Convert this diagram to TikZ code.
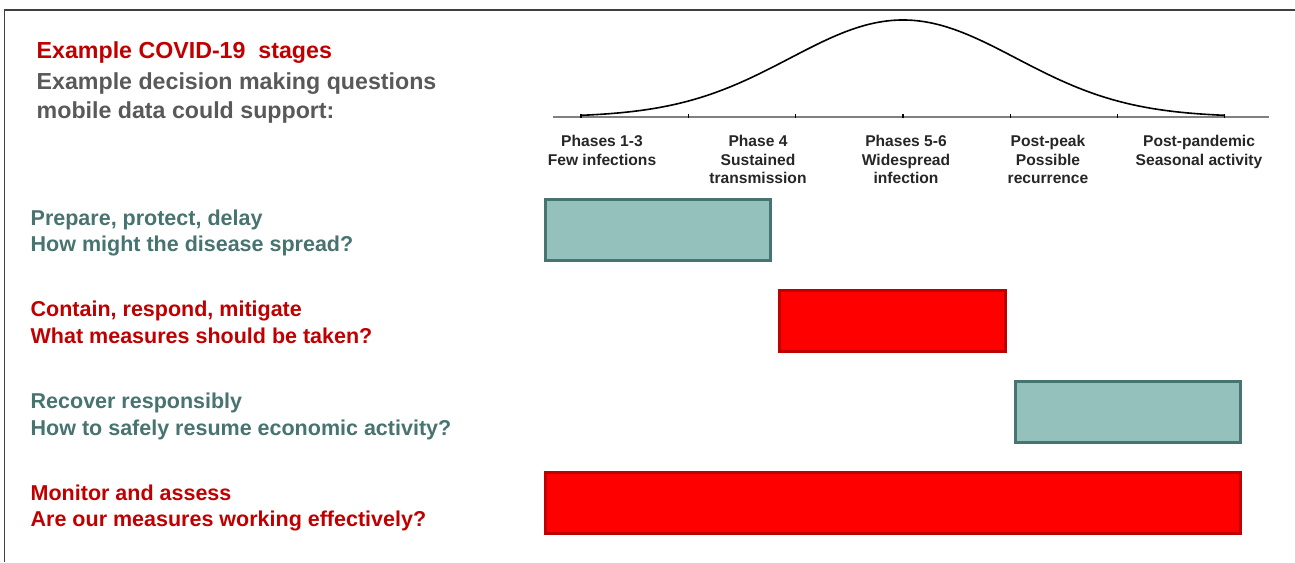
\documentclass[tikz,border=0pt]{standalone}
\usepackage{fontspec}
\setmainfont{Liberation Sans}

\definecolor{stagered}{HTML}{C00000}
\definecolor{stageteal}{RGB}{71,115,112}
\definecolor{barteal}{RGB}{149,193,188}
\definecolor{headgray}{RGB}{89,89,89}
\definecolor{phasegray}{RGB}{38,38,38}

\begin{document}
\begin{tikzpicture}[x=1pt, y=-1pt,
    question/.style={anchor=north west, inner sep=0pt, align=left,
                     font=\fontsize{21.5}{26.7}\selectfont\bfseries},
    phase/.style={anchor=north, inner sep=0pt, align=center, text=phasegray,
                  font=\fontsize{15.6}{18.3}\selectfont\bfseries},
    stage bar/.style={rectangle, line width=3pt, inner sep=0pt, minimum height=61pt},
    teal bar/.style={stage bar, draw=stageteal, fill=barteal},
    red bar/.style={stage bar, draw=stagered, fill=red}]

  \useasboundingbox (0,0) rectangle (1295,562);
  \draw[line width=1.3pt, black!75] (4.5,562) -- (4.5,10) -- (1295,10);

  % heading
  \node[anchor=base west, inner sep=0pt, text=stagered,
        font=\fontsize{23.2}{29}\selectfont\bfseries] (title) at (36.5,58.3) {Example COVID-19~~stages};
  \node[anchor=north west, inner sep=0pt, align=left, text=headgray,
        font=\fontsize{23.2}{29}\selectfont\bfseries] (subtitle) at (36.5,72.5)
        {Example decision making questions\\mobile data could support:};

  % epidemic curve
  \coordinate (axis west) at (553,117);
  \coordinate (axis east) at (1269,117);
  \draw[gray, line width=1.3pt] (axis west) -- (axis east);
  \foreach \k in {0,...,6}
    \draw[line width=1.3pt] (581+107.3*\k,117.5) -- ++(0,-4);
  \draw[line width=1.6pt] plot[domain=581:1225, samples=120, smooth]
    (\x,{117-97*exp(-0.5*pow((\x-903)/113,2))});

  \node[phase] (phase13) at (602,135.3) {Phases 1-3\\Few infections};
  \node[phase] (phase4) at (758,135.3) {Phase 4\\Sustained\\transmission};
  \node[phase] (phase56) at (906,135.3) {Phases 5-6\\Widespread\\infection};
  \node[phase] (postpeak) at (1048,135.3) {Post-peak\\Possible\\recurrence};
  \node[phase] (postpandemic) at (1199,135.3) {Post-pandemic\\Seasonal activity};

  % questions and their bars
  \node[question, text=stageteal] (prepare) at (30.5,209.3)
    {Prepare, protect, delay\\How might the disease spread?};
  \node[question, text=stagered] (contain) at (30.5,301)
    {Contain, respond, mitigate\\What measures should be taken?};
  \node[question, text=stageteal] (recover) at (30.5,392.6)
    {Recover responsibly\\How to safely resume economic activity?};
  \node[question, text=stagered] (monitor) at (30.5,484.3)
    {Monitor and assess\\Are our measures working effectively?};

  \node[teal bar, minimum width=225pt] (prepare bar) at (658,230) {};
  \node[red bar, minimum width=226pt] (contain bar) at (892.5,321) {};
  \node[teal bar, minimum width=225pt] (recover bar) at (1128,412) {};
  \node[red bar, minimum width=695pt] (monitor bar) at (893,503) {};

\end{tikzpicture}
\end{document}
